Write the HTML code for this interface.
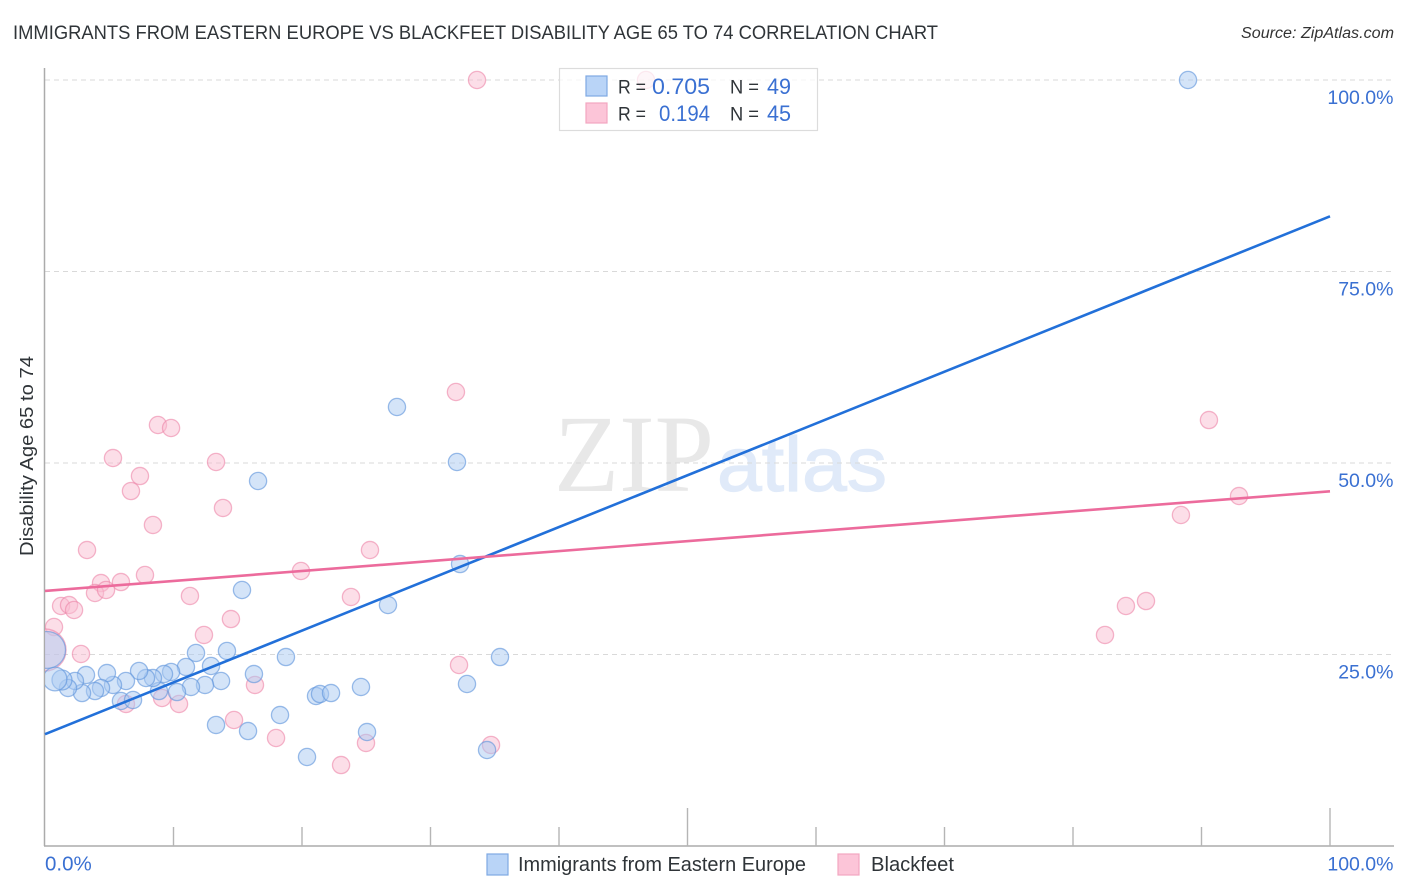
<!DOCTYPE html>
<html>
<head>
<meta charset="utf-8">
<title>Immigrants from Eastern Europe vs Blackfeet Disability Age 65 to 74 Correlation Chart</title>
<style>
html,body{margin:0;padding:0;background:#fff;}
svg{display:block;font-family:"Liberation Sans",sans-serif;}
</style>
</head>
<body>
<svg id="chart" xmlns="http://www.w3.org/2000/svg" width="1406" height="892" viewBox="0 0 1406 892">
  <defs><clipPath id="plot-clip"><rect x="45" y="60" width="1350" height="786"/></clipPath></defs>
  <rect x="0" y="0" width="1406" height="892" fill="#fff"/>
  <text x="13" y="39" font-size="19" fill="#2f3438" textLength="925" lengthAdjust="spacingAndGlyphs">IMMIGRANTS FROM EASTERN EUROPE VS BLACKFEET DISABILITY AGE 65 TO 74 CORRELATION CHART</text>
  <text x="1241" y="38" font-size="15.5" font-style="italic" fill="#333" textLength="153" lengthAdjust="spacingAndGlyphs">Source: ZipAtlas.com</text>
  <text transform="translate(33,556) rotate(-90)" font-size="18" fill="#2f3438" textLength="200" lengthAdjust="spacingAndGlyphs">Disability Age 65 to 74</text>
  <text x="554" y="491" font-family="'Liberation Serif',serif" font-size="110" fill="#e8e8e8" textLength="160" lengthAdjust="spacingAndGlyphs">ZIP</text>
  <text x="717" y="491" font-family="'Liberation Sans',sans-serif" font-size="77" fill="#e0eaf9" stroke="#e0eaf9" stroke-width="1.2" textLength="170" lengthAdjust="spacingAndGlyphs">atlas</text>
  <g id="grid"></g>
  <g id="axes"></g>
  <g id="pink-points" clip-path="url(#plot-clip)"></g>
  <g id="blue-points" clip-path="url(#plot-clip)"></g>
  <g id="trends"></g>
  <g>
    <rect x="559.5" y="68.5" width="258" height="62" fill="#fff" fill-opacity="0.72" stroke="#dcdcdc" stroke-width="1.2"/>
    <rect x="586" y="76" width="21" height="20" fill="#b9d4f7" stroke="#7fa9e3" stroke-width="1.2"/>
    <rect x="586" y="103" width="21" height="20" fill="#fcc5d8" stroke="#f3a6c0" stroke-width="1.2"/>
    <text x="618" y="93.5" font-size="19.5" fill="#2f3438" textLength="28" lengthAdjust="spacingAndGlyphs">R =</text>
    <text x="652" y="94" font-size="22" fill="#3a70d2" textLength="58" lengthAdjust="spacingAndGlyphs">0.705</text>
    <text x="730" y="93.5" font-size="19.5" fill="#2f3438" textLength="29" lengthAdjust="spacingAndGlyphs">N =</text>
    <text x="767" y="94" font-size="22" fill="#3a70d2" textLength="24" lengthAdjust="spacingAndGlyphs">49</text>
    <text x="618" y="120.5" font-size="19.5" fill="#2f3438" textLength="28" lengthAdjust="spacingAndGlyphs">R =</text>
    <text x="659" y="121" font-size="22" fill="#3a70d2" textLength="51" lengthAdjust="spacingAndGlyphs">0.194</text>
    <text x="730" y="120.5" font-size="19.5" fill="#2f3438" textLength="29" lengthAdjust="spacingAndGlyphs">N =</text>
    <text x="767" y="121" font-size="22" fill="#3a70d2" textLength="24" lengthAdjust="spacingAndGlyphs">45</text>
  </g>
  <g>
    <rect x="487" y="854" width="21" height="21" fill="#b9d4f7" stroke="#7fa9e3" stroke-width="1.2"/>
    <text x="518" y="871" font-size="20" fill="#2f3438" textLength="288" lengthAdjust="spacingAndGlyphs">Immigrants from Eastern Europe</text>
    <rect x="838" y="854" width="21" height="21" fill="#fcc5d8" stroke="#f3a6c0" stroke-width="1.2"/>
    <text x="871" y="871" font-size="20" fill="#2f3438" textLength="83" lengthAdjust="spacingAndGlyphs">Blackfeet</text>
  </g>
</svg>
<script>
const yTickValues = [100, 75, 50, 25];
const yTickLabels = ["100.0%", "75.0%", "50.0%", "25.0%"];
const xTickValues = [10, 20, 30, 40, 50, 60, 70, 80, 90, 100];
const xMajorTicks = [50, 100];
const xEndValues = [0, 100];
const xEndLabels = ["0.0%", "100.0%"];

const blueX = [15.33,11.75,14.16,18.75,10.97,12.92,16.26,13.7,12.45,11.36,10.27,8.87,9.81,9.26,8.4,7.86,7.32,6.3,5.29,4.82,4.36,3.89,3.19,2.88,2.33,1.79,1.32,0.78,5.91,6.85,13.31,15.8,18.29,0.16,20.39,21.09,21.4,22.26,24.59,25.06,26.69,27.39,32.06,32.3,32.84,34.4,35.41,16.58,88.95];
const blueY = [33.42,25.2,25.46,24.67,23.37,23.5,22.45,21.54,21.02,20.76,20.1,20.23,22.72,22.45,21.93,21.93,22.85,21.54,21.02,22.58,20.63,20.23,22.32,19.97,21.54,20.63,21.67,21.8,18.93,19.06,15.8,15.01,17.1,25.59,11.62,19.58,19.84,19.97,20.76,14.88,31.46,57.31,50.13,36.81,21.15,12.53,24.67,47.65,100];
const blueWeight = [1,1,1,1,1,1,1,1,1,1,1,1,1,1,1,1,1,1,1,1,1,1,1,1,1,1,1.35,1.9,1,1,1,1,1,4.6,1,1,1,1,1,1,1,1,1,1,1,1,1,1,1];

const pinkX = [33.62,46.77,31.98,90.58,8.79,9.81,5.29,13.31,7.39,6.69,13.85,8.4,3.27,25.29,92.92,88.4,19.92,7.78,4.36,5.91,3.89,4.75,11.28,23.81,1.25,1.87,2.26,14.47,85.68,84.12,0.7,12.37,82.49,2.8,32.22,16.34,6.3,9.11,10.43,14.71,17.98,24.98,34.71,23.04,0];
const pinkY = [100,100,59.27,55.61,54.96,54.57,50.65,50.13,48.3,46.34,44.13,41.91,38.64,38.64,45.69,43.21,35.9,35.38,34.33,34.46,33.03,33.42,32.64,32.51,31.33,31.46,30.81,29.63,31.98,31.33,28.59,27.55,27.55,25.07,23.63,21.02,18.54,19.32,18.54,16.45,14.1,13.45,13.19,10.57,25.59];
const pinkWeight = [1,1,1,1,1,1,1,1,1,1,1,1,1,1,1,1,1,1,1,1,1,1,1,1,1,1,1,1,1,1,1,1,1,1,1,1,1,1,1,1,1,1,1,1,6];

const blueTrendX = [0, 100];
const blueTrendY = [14.6, 82.2];
const pinkTrendX = [0, 100];
const pinkTrendY = [33.3, 46.3];

const NS = "http://www.w3.org/2000/svg";
function xScale(v) { return 45 + v * 12.85; }
function yScale(v) { return 846 - v * 7.66; }
function rScale(w) { return 8.6 * Math.sqrt(w); }
function make(tag, parentId) {
  const el = document.createElementNS(NS, tag);
  document.getElementById(parentId).appendChild(el);
  return el;
}

yTickValues.forEach(function (v, i) {
  const line = make("line", "grid");
  
  
  line.setAttribute("x1", 45);
  line.setAttribute("x2", 1393);
  line.setAttribute("y1", yScale(v));
  line.setAttribute("y2", yScale(v));
  line.setAttribute("stroke", "#d9d9d9");
  line.setAttribute("stroke-width", "1");
  line.setAttribute("stroke-dasharray", "5 4");
  const label = make("text", "axes");
  
  
  label.setAttribute("x", 1393.5);
  label.setAttribute("y", yScale(v) + 24);
  label.setAttribute("text-anchor", "end");
  label.setAttribute("font-size", "19.5");
  label.setAttribute("fill", "#3a70d2");
  label.textContent = yTickLabels[i];
});

const yAxis = make("line", "axes");


yAxis.setAttribute("x1", 44.5);
yAxis.setAttribute("x2", 44.5);
yAxis.setAttribute("y1", 68);
yAxis.setAttribute("y2", 846);
yAxis.setAttribute("stroke", "#ababab");
yAxis.setAttribute("stroke-width", "1.5");

const xAxis = make("line", "axes");


xAxis.setAttribute("x1", 44);
xAxis.setAttribute("x2", 1394);
xAxis.setAttribute("y1", 846);
xAxis.setAttribute("y2", 846);
xAxis.setAttribute("stroke", "#ababab");
xAxis.setAttribute("stroke-width", "1.5");

xTickValues.forEach(function (v) {
  const tick = make("line", "axes");
  
  
  tick.setAttribute("x1", xScale(v));
  tick.setAttribute("x2", xScale(v));
  tick.setAttribute("y1", xMajorTicks.indexOf(v) >= 0 ? 808 : 827);
  tick.setAttribute("y2", 846);
  tick.setAttribute("stroke", "#b5b5b5");
  tick.setAttribute("stroke-width", "1.4");
});

xEndValues.forEach(function (v, i) {
  const label = make("text", "axes");
  
  
  label.setAttribute("x", i === 0 ? xScale(v) : 1393.5);
  label.setAttribute("y", 870.5);
  label.setAttribute("text-anchor", i === 0 ? "start" : "end");
  label.setAttribute("font-size", i === 0 ? "20.5" : "19.5");
  label.setAttribute("fill", "#3a70d2");
  label.textContent = xEndLabels[i];
});

pinkX.forEach(function (v, i) {
  const c = make("circle", "pink-points");
  
  
  c.setAttribute("cx", xScale(v));
  c.setAttribute("cy", yScale(pinkY[i]));
  c.setAttribute("r", rScale(pinkWeight[i]));
  c.setAttribute("fill", "#f9bdd2");
  c.setAttribute("fill-opacity", "0.5");
  c.setAttribute("stroke", "#ec85a9");
  c.setAttribute("stroke-opacity", "0.6");
  c.setAttribute("stroke-width", "1.3");
});

blueX.forEach(function (v, i) {
  const c = make("circle", "blue-points");
  
  
  c.setAttribute("cx", xScale(v));
  c.setAttribute("cy", yScale(blueY[i]));
  c.setAttribute("r", rScale(blueWeight[i]));
  c.setAttribute("fill", "#a9caf2");
  c.setAttribute("fill-opacity", "0.5");
  c.setAttribute("stroke", "#5f95dc");
  c.setAttribute("stroke-opacity", "0.62");
  c.setAttribute("stroke-width", "1.3");
});

const blueTrend = make("line", "trends");


blueTrend.setAttribute("x1", xScale(blueTrendX[0]));
blueTrend.setAttribute("x2", xScale(blueTrendX[1]));
blueTrend.setAttribute("y1", yScale(blueTrendY[0]));
blueTrend.setAttribute("y2", yScale(blueTrendY[1]));
blueTrend.setAttribute("stroke", "#2270d9");
blueTrend.setAttribute("stroke-width", "2.6");

const pinkTrend = make("line", "trends");


pinkTrend.setAttribute("x1", xScale(pinkTrendX[0]));
pinkTrend.setAttribute("x2", xScale(pinkTrendX[1]));
pinkTrend.setAttribute("y1", yScale(pinkTrendY[0]));
pinkTrend.setAttribute("y2", yScale(pinkTrendY[1]));
pinkTrend.setAttribute("stroke", "#ec6b9c");
pinkTrend.setAttribute("stroke-width", "2.6");
</script>
</body>
</html>
